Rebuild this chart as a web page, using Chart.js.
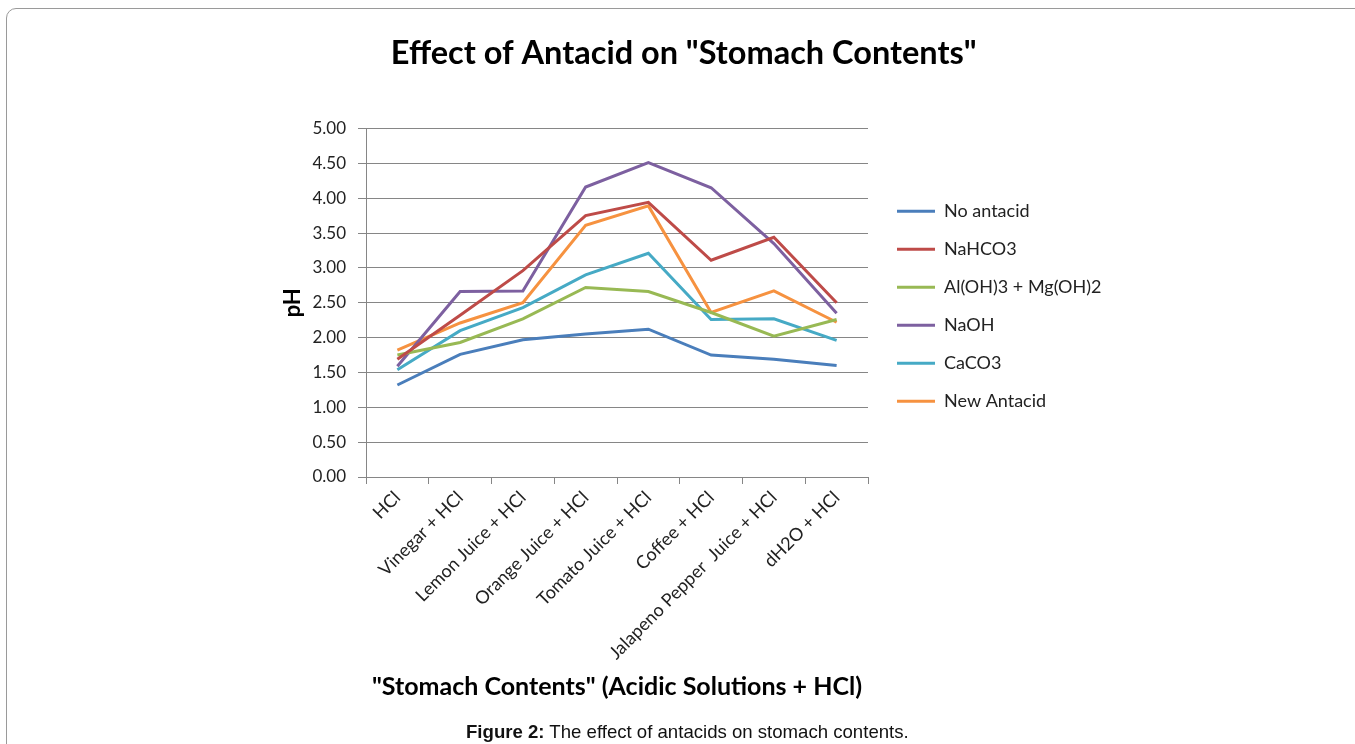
<!DOCTYPE html>
<html>
<head>
<meta charset="utf-8">
<script src="https://cdn.jsdelivr.net/npm/chart.js@4.4.0/dist/chart.umd.min.js"></script>
<style>
  html, body { margin: 0; padding: 0; background: #fff; overflow: hidden; }
  #frame {
    position: absolute; left: 6px; top: 8px; width: 1400px; height: 800px;
    border: 1.5px solid #9a9a9a; border-radius: 10px;
  }
  #chart { position: absolute; left: 0; top: 0; }
  #caption {
    position: absolute; left: 466px; top: 721px;
    font-family: "Liberation Sans", Arial, sans-serif; font-size: 18.6px; color: #111;
    white-space: nowrap;
  }
</style>
</head>
<body>
<div id="frame"></div>
<canvas id="chart" width="1355" height="744"></canvas>
<div id="caption"><b>Figure 2:</b> The effect of antacids on stomach contents.</div>

<script>
// chart data
const categories = ['HCl', 'Vinegar + HCl', 'Lemon Juice + HCl', 'Orange Juice + HCl',
    'Tomato Juice + HCl', 'Coffee + HCl', 'Jalapeno Pepper  Juice + HCl', 'dH2O + HCl'];
const seriesNames = ['No antacid', 'NaHCO3', 'Al(OH)3 + Mg(OH)2', 'NaOH', 'CaCO3', 'New Antacid'];
const noAntacid  = [1.32, 1.76, 1.97, 2.05, 2.12, 1.75, 1.69, 1.60];
const nahco3     = [1.69, 2.32, 2.96, 3.75, 3.94, 3.11, 3.44, 2.50];
const alMg       = [1.75, 1.93, 2.27, 2.72, 2.66, 2.36, 2.02, 2.26];
const naoh       = [1.59, 2.66, 2.67, 4.16, 4.51, 4.15, 3.35, 2.35];
const caco3      = [1.54, 2.10, 2.43, 2.90, 3.21, 2.26, 2.27, 1.96];
const newAntacid = [1.82, 2.21, 2.50, 3.61, 3.89, 2.36, 2.67, 2.22];
const yTicks = [0, 0.5, 1, 1.5, 2, 2.5, 3, 3.5, 4, 4.5, 5];

const colors = ['#4A7EBB', '#BE4B48', '#98B954', '#7D60A0', '#46AAC5', '#F69240'];
const values = [noAntacid, nahco3, alMg, naoh, caco3, newAntacid];
const gridColor = '#868686';
const font = 'Lato';

// work out how much room the legend takes so the plot ends where the figure's does
const legendFont = 18, legendPad = 20, legendBox = 38;
const mctx = document.createElement('canvas').getContext('2d');
mctx.font = legendFont + 'px ' + font;
let widest = 0;
seriesNames.forEach(n => { widest = Math.max(widest, mctx.measureText(n).width); });
const legendWidth = legendPad + legendBox + legendFont / 2 + widest + 10;
const rightPad = 1355 - 868 - 9 - legendWidth;

const datasets = seriesNames.map((name, i) => ({
    label: name,
    data: values[i],
    borderColor: colors[i],
    backgroundColor: colors[i],
    borderWidth: 3,
    pointRadius: 0,
    tension: 0,
    yAxisID: 'y'
}));

const config = {
    type: 'line',
    data: { labels: categories, datasets: datasets },
    options: {
        responsive: false,
        animation: false,
        devicePixelRatio: 1,
        layout: { padding: { left: 256, top: 0, right: rightPad, bottom: 30 } },
        plugins: {
            title: {
                display: true,
                text: 'Effect of Antacid on "Stomach Contents"',
                color: '#000',
                font: { family: font, size: 32.5, weight: 'bold' },
                padding: { top: 34, bottom: 55.5 }
            },
            legend: {
                position: 'right',
                align: 'center',
                fullSize: false,
                maxWidth: 600,
                // tiny empty title, only nudges the items down a few pixels
                title: { display: true, text: ' ', font: { size: 5 }, padding: { top: 0, bottom: 1 } },
                labels: {
                    boxWidth: legendBox,
                    boxHeight: 3,
                    padding: legendPad,
                    color: '#222',
                    font: { family: font, size: legendFont },
                    generateLabels: (chart) => {
                        const items = Chart.defaults.plugins.legend.labels.generateLabels(chart);
                        items.forEach(it => { it.fillStyle = it.strokeStyle; it.lineWidth = 0; });
                        return items;
                    }
                }
            },
            tooltip: { enabled: false }
        },
        scales: {
            x: {
                offset: true,
                grid: { display: true, drawOnChartArea: false, drawTicks: true, tickLength: 7, color: gridColor, offset: true },
                border: { display: true, color: gridColor },
                ticks: {
                    minRotation: 45, maxRotation: 45, autoSkip: false, padding: 3,
                    color: '#222', font: { family: font, size: 18 }
                },
                title: {
                    display: true,
                    text: '"Stomach Contents" (Acidic Solutions + HCl)',
                    color: '#000',
                    font: { family: font, size: 25, weight: 'bold' },
                    padding: { top: 0, bottom: 12 }
                },
                afterFit: (s) => { s.height = 237; }
            },
            y: {
                position: 'left',
                min: 0, max: 5,
                afterBuildTicks: (s) => { s.ticks = yTicks.map(v => ({ value: v })); },
                grid: { color: gridColor, tickLength: 8 },
                border: { display: true, color: gridColor },
                ticks: {
                    padding: 12, color: '#222', font: { family: font, size: 17 },
                    callback: (v) => Number(v).toFixed(2)
                },
                title: {
                    display: true,
                    text: 'pH',
                    color: '#000',
                    font: { family: font, size: 22, weight: 'bold' },
                    padding: { top: 24, bottom: 0 }
                },
                afterFit: (s) => { s.width = 110; }
            },
            // empty spacer between the plot and the legend
            gap: {
                position: 'right',
                display: true,
                ticks: { display: false },
                grid: { display: false, drawTicks: false },
                border: { display: false },
                afterFit: (s) => { s.width = 9; }
            }
        }
    }
};

const myChart = new Chart(document.getElementById('chart'), config);
</script>
</body>
</html>
